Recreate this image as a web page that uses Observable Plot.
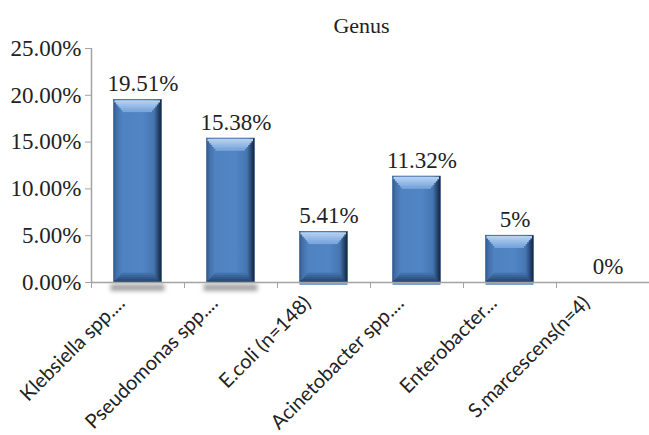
<!DOCTYPE html>
<html>
<head>
<meta charset="utf-8">
<script src="https://cdn.jsdelivr.net/npm/d3@7"></script>
<script src="https://cdn.jsdelivr.net/npm/@observablehq/plot@0.6"></script>
<style>
  html, body { margin: 0; padding: 0; background: #fff; }
</style>
</head>
<body>
<div id="chart"></div>
<script>
const title = "Genus";
const categories = ["Klebsiella spp....", "Pseudomonas spp....", "E.coli (n=148)", "Acinetobacter spp....", "Enterobacter...", "S.marcescens(n=4)"];
const values = [19.51, 15.38, 5.41, 11.32, 5, 0];
const valueLabels = ["19.51%", "15.38%", "5.41%", "11.32%", "5%", "0%"];
const yTicks = [0, 5, 10, 15, 20, 25];

const data = categories.map((c, i) => ({c, v: values[i], label: valueLabels[i], i}));
const nonZero = data.filter(d => d.v > 0);

const SERIF = "'Liberation Serif', 'Times New Roman', serif";
const SANS = "Lato, 'Open Sans', sans-serif";
const axisGray = "#a3a3a3";

const bx1 = d => d.i, bx2 = d => d.i + 1;
const barInset = 22.5;

// bevel layers (styling only)
const topBevel = d3.range(6).map(k => Plot.ruleY(nonZero, {
  x1: bx1, x2: bx2, y: "v", dy: 1.5 + 1.9 * k, strokeWidth: 2.4,
  insetLeft: barInset + 1 + 1.6 * k, insetRight: barInset + 1.5 + 1.6 * k,
  stroke: d3.interpolateRgb("#b3cff1", "#7ba7dd")(k / 5)
}));
const bottomBevel = d3.range(5).map(k => Plot.ruleY(nonZero, {
  x1: bx1, x2: bx2, y: 0, dy: -1 - 1.9 * k, strokeWidth: 2.4,
  insetLeft: barInset + 1 + 1.8 * k, insetRight: barInset + 1 + 1.8 * k,
  stroke: d3.interpolateRgb("#22416a", "#4171aa")(k / 4)
}));

const chart = Plot.plot({
  width: 649,
  height: 435,
  marginTop: 48,
  marginBottom: 153,
  marginLeft: 91,
  marginRight: 0,
  style: {fontFamily: SERIF, background: "#fff", color: "#222"},
  x: {domain: [0, categories.length], axis: null},
  y: {domain: [0, 25], axis: null},
  marks: [
    Plot.ruleY(data.filter(d => d.i < 2 && d.v > 0), {x1: bx1, x2: bx2, y: 0, dy: 5, strokeWidth: 7, stroke: "#6a6a6a", strokeOpacity: 0.6, insetLeft: barInset - 3, insetRight: barInset - 3, imageFilter: "blur(2px)"}),
    Plot.ruleY(data.filter(d => d.i >= 2 && d.v > 0), {x1: bx1, x2: bx2, y: 0, dy: 1.5, strokeWidth: 1.5, stroke: "#4f81bd", insetLeft: barInset, insetRight: barInset}),
    Plot.rectY(nonZero, {x1: bx1, x2: bx2, y: "v", insetLeft: barInset, insetRight: barInset, fill: "url(#barGrad)", stroke: "#2f5a8e", strokeWidth: 0.6}),
    ...topBevel,
    ...bottomBevel,
    Plot.ruleY([0], {stroke: axisGray, strokeWidth: 1.5}),
    Plot.ruleX([0], {stroke: axisGray, strokeWidth: 1.5}),
    Plot.axisY({ticks: yTicks, tickFormat: d => d.toFixed(2) + "%", label: null, tickSize: 6, tickPadding: 4, fontSize: 23, fontFamily: SERIF, stroke: axisGray, fill: "#222"}),
    Plot.axisX({ticks: d3.range(categories.length + 1), tickFormat: () => "", label: null, tickSize: 6, stroke: axisGray}),
    Plot.text(data, {x: d => d.i + 0.5, y: "v", text: "label", dx: 5, dy: -9, lineAnchor: "bottom", fontSize: 23, fontFamily: SERIF, fill: "#222"}),
    Plot.text([title], {frameAnchor: "top", dx: -9, dy: -23, lineAnchor: "middle", fontSize: 22, fontFamily: SERIF, fill: "#222"}),
    Plot.text(data, {x: d => d.i + 0.5, text: "c", frameAnchor: "bottom", rotate: -45, textAnchor: "end", lineAnchor: "bottom", dx: -12, dy: 22, fontSize: 20, fontFamily: SANS, fill: "#222"})
  ]
});

const ns = "http://www.w3.org/2000/svg";
const defs = document.createElementNS(ns, "defs");
defs.innerHTML = `
  <linearGradient id="barGrad" x1="0" y1="0" x2="1" y2="0">
    <stop offset="0" stop-color="#345a8a"/>
    <stop offset="0.07" stop-color="#4371ab"/>
    <stop offset="0.18" stop-color="#4f82c0"/>
    <stop offset="0.6" stop-color="#5185c4"/>
    <stop offset="0.84" stop-color="#4676b1"/>
    <stop offset="0.93" stop-color="#27476f"/>
    <stop offset="1" stop-color="#13233a"/>
  </linearGradient>`;
chart.insertBefore(defs, chart.firstChild);
document.getElementById("chart").appendChild(chart);
</script>
</body>
</html>
